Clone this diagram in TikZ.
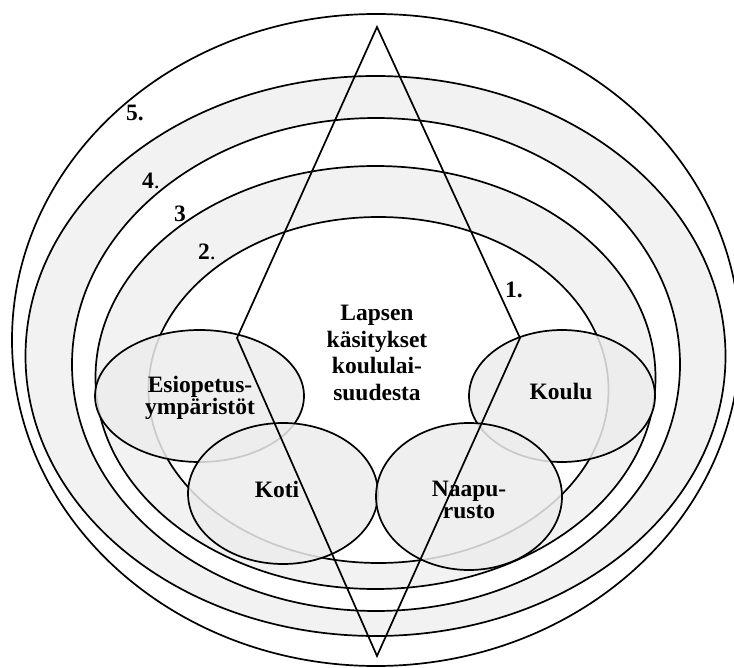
\documentclass[tikz,border=0pt]{standalone}
\usepackage{fontspec}
\setmainfont{Liberation Serif}
\usetikzlibrary{positioning}

\tikzset{
  ring/.style={draw, line width=1.7pt},
  band/.style={ring, fill=black!5},
  area/.style={draw, line width=1.7pt, fill=black!7, fill opacity=0.85},
  lbl/.style={font=\bfseries\fontsize{23.5}{22}\selectfont, align=center, inner sep=0pt},
  midlbl/.style={lbl, font=\bfseries\fontsize{23.5}{26.5}\selectfont},
}

\begin{document}
\begin{tikzpicture}[x=1pt, y=-1pt]
    \useasboundingbox (0,0) rectangle (734,668);
    % ---- the rings, outside in
    \draw[ring, fill=white] (376,340) ellipse [x radius=364pt, y radius=326pt];
    \draw[band] (375.5,356) ellipse [x radius=350pt, y radius=280pt];
    \draw[ring, fill=white] (376,364.5) ellipse [x radius=304pt, y radius=246.5pt];
    \draw[band] (375.5,377.5) ellipse [x radius=280pt, y radius=211.5pt];
    \draw[ring, fill=white] (378.5,390) ellipse [x radius=230pt, y radius=173pt];
    % ---- the four settings
    \draw[area] (199.5,396) ellipse [x radius=104.5pt, y radius=66pt];
    \draw[area] (562,396) ellipse [x radius=93pt, y radius=66pt];
    \draw[area] (283,493.5) ellipse [x radius=95pt, y radius=70.5pt];
    \draw[area] (469,496.5) ellipse [x radius=93pt, y radius=73.5pt];
    % ---- the diamond
    \coordinate (top) at (377,27);
    \coordinate (right) at (520,338);
    \coordinate (bottom) at (377,656);
    \coordinate (left) at (237,338);
    \draw[ring] (top) -- (right) -- (bottom) -- (left) -- cycle;
    % ---- texts
    \node[midlbl] (child) at (377,353) {Lapsen\\käsitykset\\koululai-\\suudesta};
    \node[lbl] (preschool) at (200,398) {Esiopetus-\\ympäristöt};
    \node[lbl] (school) at (561,391) {Koulu};
    \node[lbl] (home) at (277,489) {Koti};
    \node[lbl] (hood) at (469,500) {Naapu-\\rusto};
    % level numbers
    \node[lbl] (lvlone) at (514,290) {1.};
    \node[lbl] (lvltwo) at (207,252) {2{\mdseries.}};
    \node[lbl] (lvlthree) at (180,214) {3};
    \node[lbl] (lvlfour) at (151,181) {4{\mdseries.}};
    \node[lbl] (lvlfive) at (135,113) {5.};
\end{tikzpicture}
\end{document}
